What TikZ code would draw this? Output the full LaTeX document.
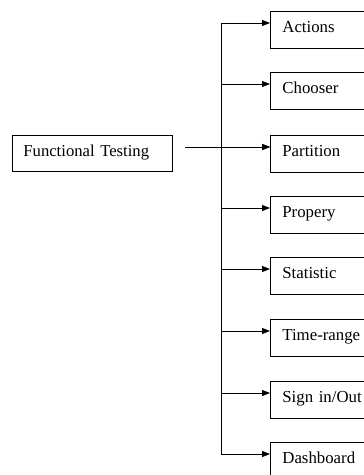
\documentclass[tikz,border=0pt]{standalone}
\usepackage{fontspec}
\setmainfont{Liberation Serif}
\usetikzlibrary{arrows.meta,positioning}

\begin{document}
\begin{tikzpicture}[x=0.75pt,y=-0.75pt,
    box/.style={draw,line width=0.6pt,rectangle,anchor=north west,
      minimum height=37*0.75pt,text width=90*0.75pt,inner xsep=12*0.75pt,
      text height=9pt,text depth=4.5pt,
      align=left,font=\fontsize{12.6pt}{15pt}\selectfont},
    arr/.style={line width=0.6pt,-{Triangle[length=6pt,width=4.5pt]}}]
  \useasboundingbox (0,0) rectangle (364,475); % 画像の範囲
  \clip (0,0) rectangle (364,475); % 右端と下端で箱が切れる
  \node[box,text width=138*0.75pt,minimum height=36*0.75pt,inner xsep=11*0.75pt,
    font=\fontsize{12.5pt}{15pt}\selectfont]
    (ft) at (12,135) {Functional Testing}; % 左側の箱
  \foreach \name/\y [count=\i] in {Actions/11,Chooser/72,Partition/135,Propery/196,
      Statistic/257,Time-range/319,Sign in\slash Out/381,Dashboard/442}{
    \node[box] (b\i) at (270,\y) {\name}; % 右側の箱
    \coordinate (t\i) at (221,\y+12); % 幹の上の分岐点
    \draw[arr] (t\i) -- (b\i.west |- t\i); % 幹から箱への矢印
  }
  \draw[line width=0.6pt] (t1) -- (t8); % 縦の幹
  \draw[arr,shorten <=9pt] (ft.east |- t3) -- (b3.west |- t3); % 左の箱からの矢印
\end{tikzpicture}
\end{document}
